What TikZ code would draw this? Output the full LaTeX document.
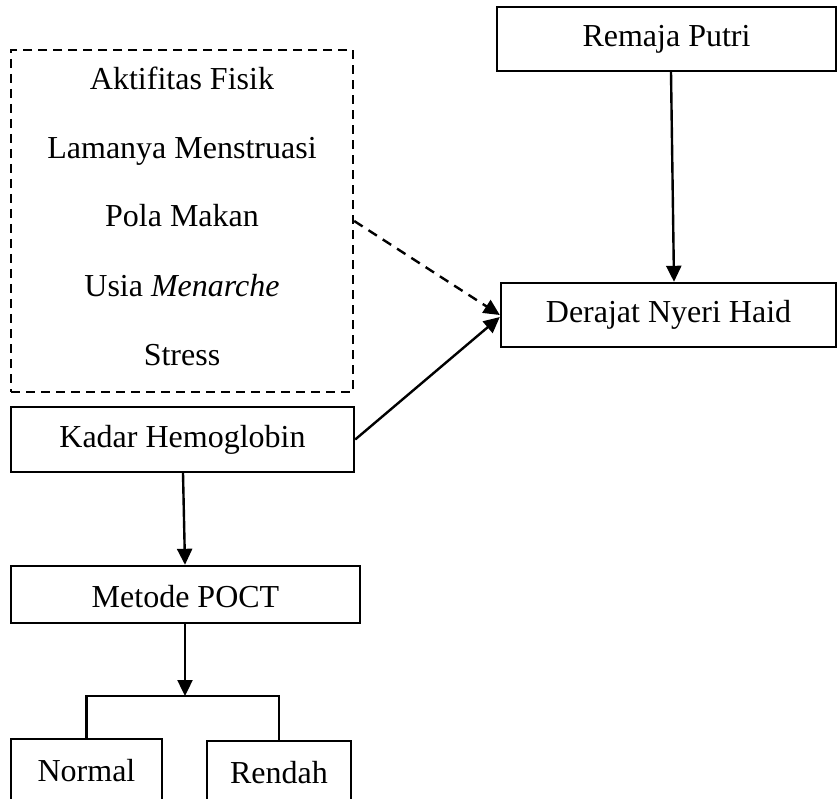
\documentclass[tikz,border=0pt]{standalone}
\usepackage{fontspec}
\setmainfont{Liberation Serif}
\usetikzlibrary{arrows.meta,calc}
\begin{document}
\begin{tikzpicture}[x=1pt,y=-1pt,
  txt/.style={font=\fontsize{32}{38}\selectfont},
  box/.style={draw, line width=2.4pt, rectangle, inner sep=0pt, txt, text height=22pt, text depth=7pt},
  dbox/.style={draw, line width=2.4pt, dash pattern=on 9pt off 6pt, rectangle, inner sep=0pt},
  lbl/.style={txt, anchor=base, inner sep=0pt},
  arr/.style={line width=2.4pt, -{Triangle[length=16pt,width=15pt]}},
  darr/.style={arr, dash pattern=on 10pt off 7pt},
  plain/.style={line width=2.4pt}]
\useasboundingbox (0,0) rectangle (837,799);
\fill[white] (0,0) rectangle (837,799);

\node[box, minimum width=339pt, minimum height=64pt] (remaja) at (666.5,39) {Remaja Putri};
\node[box, minimum width=335pt, minimum height=64pt] (derajat) at (668.5,315) {Derajat Nyeri Haid};

\node[dbox, minimum width=342pt, minimum height=342pt] (faktor) at (182,221) {};
\node[lbl] (f1) at (182,90) {Aktifitas Fisik};
\node[lbl] (f2) at (182,159) {Lamanya Menstruasi};
\node[lbl] (f3) at (182,227) {Pola Makan};
\node[lbl] (f4) at (182,297) {Usia \textit{Menarche}};
\node[lbl] (f5) at (182,365) {Stress};

\node[box, minimum width=343pt, minimum height=65pt] (kadar) at (182.5,439.5) {Kadar Hemoglobin};
\node[box, minimum width=349pt, minimum height=57pt, text height=27pt, text depth=2pt] (metode) at (185.5,594.5) {Metode POCT};
\node[box, minimum width=151pt, minimum height=70pt] (normal) at (86.5,774) {Normal};
\node[box, minimum width=144pt, minimum height=70pt] (rendah) at (279,776) {Rendah};

\coordinate (split) at (185,696);

\draw[arr] ([xshift=4.5pt]remaja.south) -- ([xshift=5.5pt]derajat.north);
\draw[darr] (faktor.east) -- (derajat.west);
\draw[arr] (kadar.east) -- ([yshift=-2pt]derajat.west);
\draw[arr] ([xshift=0.5pt]kadar.south) -- ([xshift=-0.5pt]metode.north);
\draw[arr] ([xshift=-0.5pt]metode.south) -- (split);
\draw[plain] (normal.north) -- (normal.north |- split) -- (rendah.north |- split) -- (rendah.north);
\end{tikzpicture}
\end{document}
